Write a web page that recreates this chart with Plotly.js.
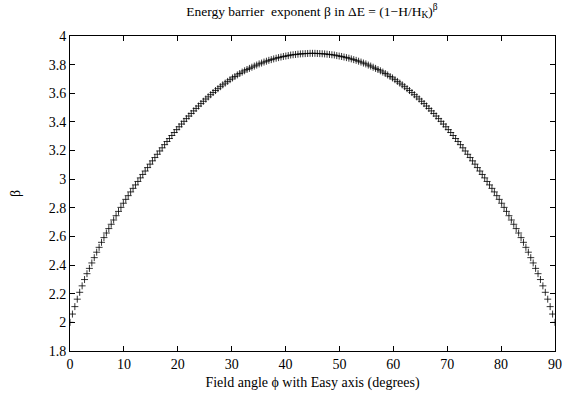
<!DOCTYPE html>
<html>
<head>
<meta charset="utf-8">
<script src="https://cdn.plot.ly/plotly-3.0.1.min.js"></script>
<style>html,body{margin:0;padding:0;background:#fff;}#chart{width:562px;height:407px;}</style>
</head>
<body>
<div id="chart"></div>
<script>
// Field angle (degrees)
const angle = [
0,0.45,0.9,1.35,1.8,2.25,2.7,3.15,3.6,4.05,4.5,4.95,5.4,5.85,6.3,6.75,7.2,7.65,8.1,8.55,
9,9.45,9.9,10.35,10.8,11.25,11.7,12.15,12.6,13.05,13.5,13.95,14.4,14.85,15.3,15.75,16.2,16.65,17.1,17.55,
18,18.45,18.9,19.35,19.8,20.25,20.7,21.15,21.6,22.05,22.5,22.95,23.4,23.85,24.3,24.75,25.2,25.65,26.1,26.55,
27,27.45,27.9,28.35,28.8,29.25,29.7,30.15,30.6,31.05,31.5,31.95,32.4,32.85,33.3,33.75,34.2,34.65,35.1,35.55,
36,36.45,36.9,37.35,37.8,38.25,38.7,39.15,39.6,40.05,40.5,40.95,41.4,41.85,42.3,42.75,43.2,43.65,44.1,44.55,
45,45.45,45.9,46.35,46.8,47.25,47.7,48.15,48.6,49.05,49.5,49.95,50.4,50.85,51.3,51.75,52.2,52.65,53.1,53.55,
54,54.45,54.9,55.35,55.8,56.25,56.7,57.15,57.6,58.05,58.5,58.95,59.4,59.85,60.3,60.75,61.2,61.65,62.1,62.55,
63,63.45,63.9,64.35,64.8,65.25,65.7,66.15,66.6,67.05,67.5,67.95,68.4,68.85,69.3,69.75,70.2,70.65,71.1,71.55,
72,72.45,72.9,73.35,73.8,74.25,74.7,75.15,75.6,76.05,76.5,76.95,77.4,77.85,78.3,78.75,79.2,79.65,80.1,80.55,
81,81.45,81.9,82.35,82.8,83.25,83.7,84.15,84.6,85.05,85.5,85.95,86.4,86.85,87.3,87.75,88.2,88.65,89.1,89.55,
90];
// Exponent beta
const beta = [
2.000,2.058,2.110,2.162,2.210,2.255,2.299,2.340,2.377,2.415,2.452,2.490,2.524,2.559,2.592,2.624,2.655,2.685,2.715,2.745,
2.775,2.803,2.832,2.859,2.885,2.911,2.936,2.960,2.984,3.009,3.033,3.057,3.081,3.105,3.128,3.151,3.174,3.197,3.219,3.241,
3.263,3.284,3.305,3.326,3.346,3.366,3.385,3.404,3.423,3.441,3.459,3.477,3.494,3.511,3.528,3.544,3.560,3.575,3.590,3.605,
3.619,3.632,3.646,3.659,3.671,3.683,3.695,3.707,3.717,3.728,3.738,3.748,3.757,3.766,3.774,3.782,3.790,3.797,3.805,3.811,
3.818,3.824,3.830,3.835,3.840,3.845,3.849,3.853,3.857,3.860,3.863,3.867,3.869,3.871,3.873,3.875,3.876,3.877,3.878,3.879,
3.879,3.879,3.878,3.877,3.876,3.875,3.873,3.871,3.869,3.867,3.863,3.860,3.857,3.853,3.849,3.845,3.840,3.835,3.830,3.824,
3.818,3.811,3.805,3.797,3.790,3.782,3.774,3.766,3.757,3.748,3.738,3.728,3.717,3.707,3.695,3.683,3.671,3.659,3.646,3.632,
3.619,3.605,3.590,3.575,3.560,3.544,3.528,3.511,3.494,3.477,3.459,3.441,3.423,3.404,3.385,3.366,3.346,3.326,3.305,3.284,
3.263,3.241,3.219,3.197,3.174,3.151,3.128,3.105,3.081,3.057,3.033,3.009,2.984,2.960,2.936,2.911,2.885,2.859,2.832,2.803,
2.775,2.745,2.715,2.685,2.655,2.624,2.592,2.559,2.524,2.490,2.452,2.415,2.377,2.340,2.299,2.255,2.210,2.162,2.110,2.058,
2.000];
const xTicks = [0,10,20,30,40,50,60,70,80,90];
const yTicks = [1.8,2,2.2,2.4,2.6,2.8,3,3.2,3.4,3.6,3.8,4];

const font = {family: '"Liberation Serif", "DejaVu Serif", serif', size: 14, color: '#000'};

const trace = {
  x: angle, y: beta, type: 'scatter', mode: 'markers',
  marker: {symbol: 'cross-thin', size: 5, color: '#000', line: {color: '#000', width: 0.8}},
  hoverinfo: 'skip', showlegend: false
};

const axisCommon = {
  showline: true, linecolor: '#000', linewidth: 1, mirror: 'ticks',
  ticks: 'inside', ticklen: 5, tickwidth: 1, tickcolor: '#000',
  showgrid: false, zeroline: false, tickfont: font
};

const layout = {
  width: 562, height: 407,
  margin: {l: 70, r: 7, t: 36, b: 56},
  paper_bgcolor: '#fff', plot_bgcolor: '#fff',
  font: font,
  title: {text: 'Energy barrier  exponent β in ΔE = (1−H/H<sub>K</sub>)<sup>β</sup>', font: {family: font.family, size: 13.5, color: '#000'}, x: 0.555, xanchor: 'center', y: 0.985, yanchor: 'top'},
  xaxis: Object.assign({}, axisCommon, {range: [0, 90], tickvals: xTicks, ticktext: xTicks.map(String),
    title: {text: 'Field angle ϕ with Easy axis (degrees)', font: font, standoff: 6}}),
  yaxis: Object.assign({}, axisCommon, {range: [1.8, 4], tickvals: yTicks, ticktext: yTicks.map(v => String(v)),
    title: {text: 'β', font: font, standoff: 24}})
};

Plotly.newPlot('chart', [trace], layout, {staticPlot: true, displayModeBar: false});
</script>
</body>
</html>
